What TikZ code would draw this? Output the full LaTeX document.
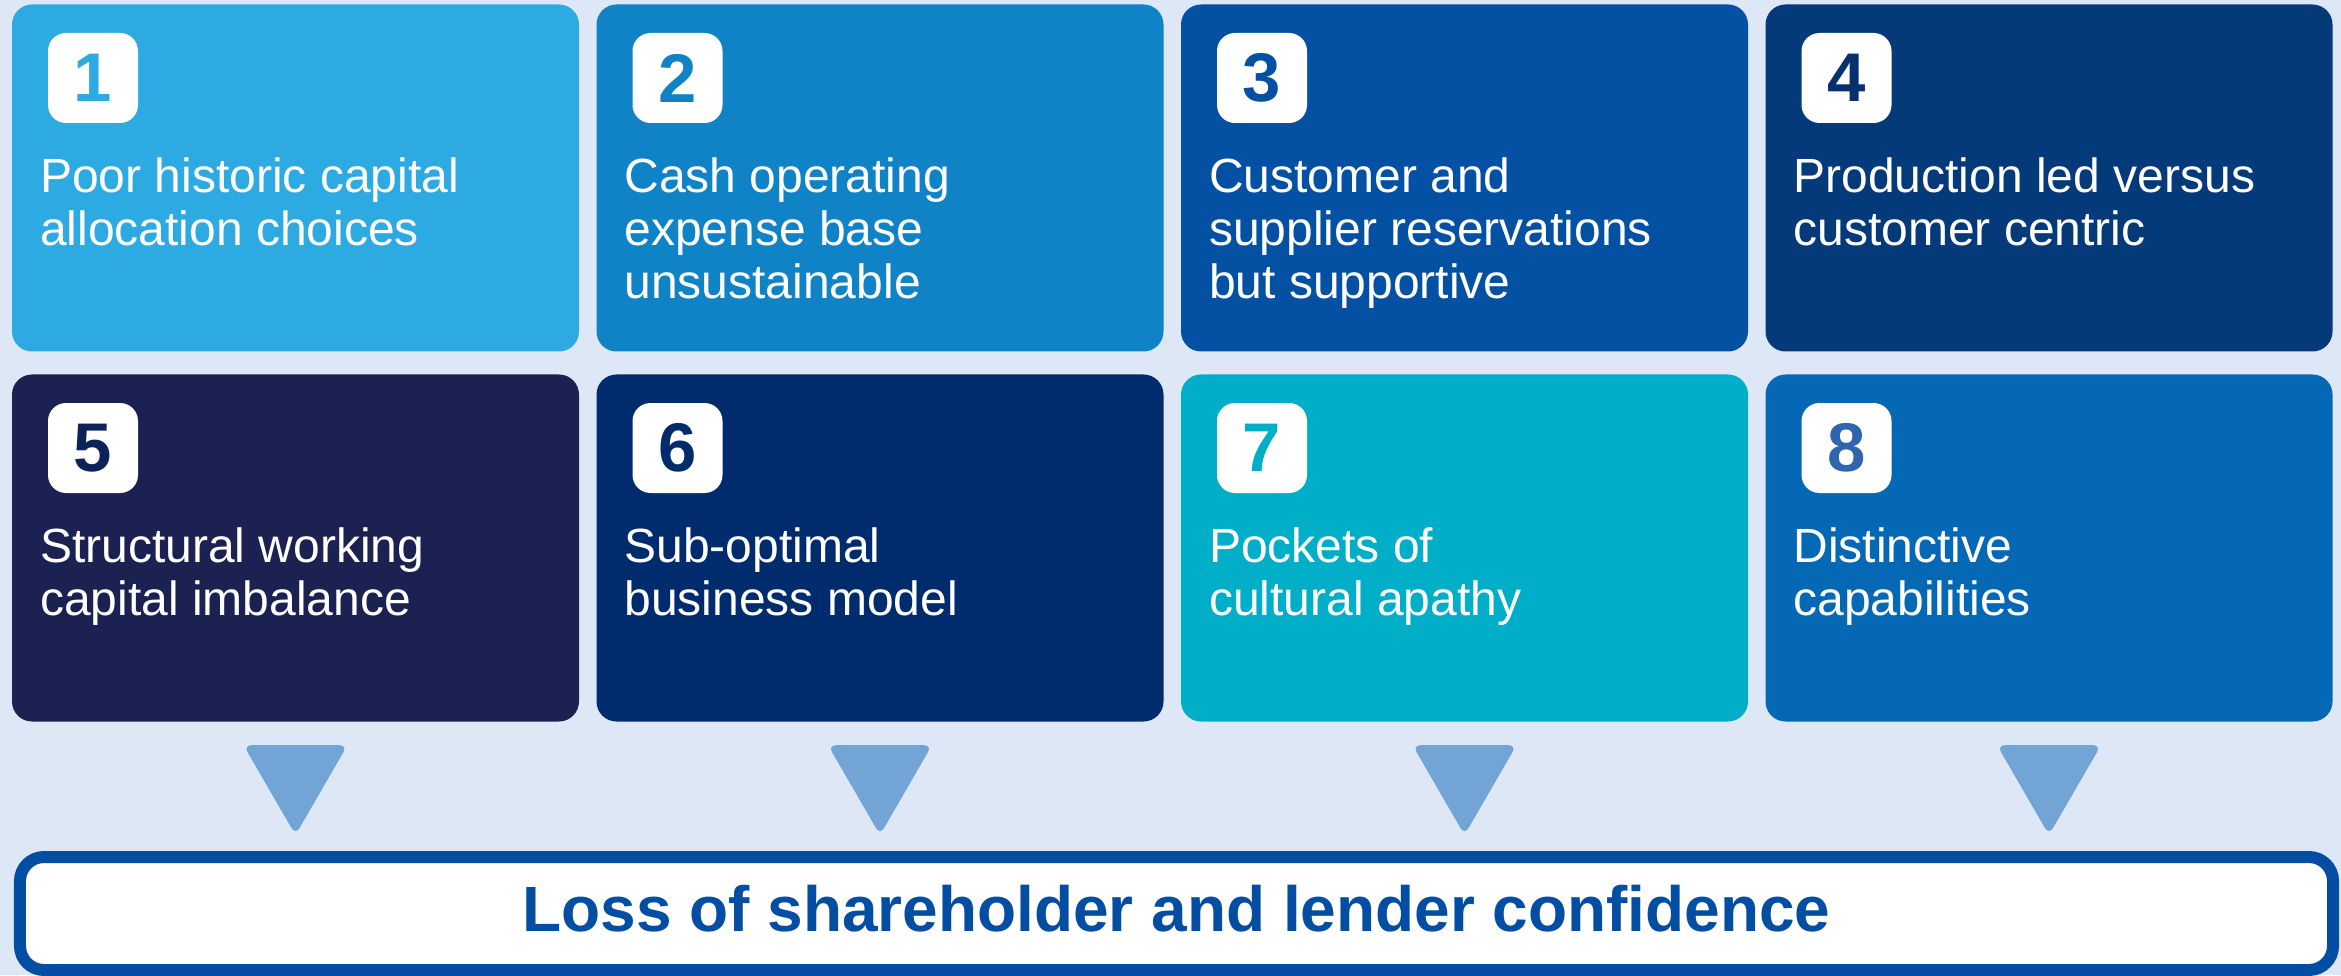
\documentclass[tikz,border=0pt]{standalone}
\usepackage{fontspec}
\setmainfont{Liberation Sans}
\usetikzlibrary{calc}
\definecolor{pageblue}{HTML}{DEE7F5}
\definecolor{c1}{HTML}{2EAAE2}
\definecolor{c2}{HTML}{0F83C6}
\definecolor{c3}{HTML}{0450A3}
\definecolor{c4}{HTML}{04397A}
\definecolor{c5}{HTML}{1B2150}
\definecolor{c6}{HTML}{002C6D}
\definecolor{c7}{HTML}{00AFC7}
\definecolor{c8}{HTML}{0568B4}
\definecolor{n4}{HTML}{06306E}
\definecolor{n5}{HTML}{0B2356}
\definecolor{n8}{HTML}{2F64AE}
\definecolor{dropblue}{HTML}{72A4D6}
\definecolor{lossblue}{HTML}{034EA2}

\begin{document}
\begin{tikzpicture}[
    card/.style={fill=#1,minimum width=5.67cm,minimum height=3.47cm,inner sep=0pt,rounded corners=0.2cm},
    badge/.style={fill=white,text=#1,minimum size=0.9cm,inner sep=0pt,rounded corners=0.18cm,anchor=north west,font=\fontsize{19.6pt}{20pt}\selectfont\bfseries},
    cardtext/.style={text=white,anchor=north west,align=left,inner sep=0pt,execute at begin node=\strut,font=\fontsize{13.66pt}{15.1pt}\selectfont},
    drop/.style={fill=dropblue,rounded corners=0.08cm},
    banner/.style={draw=lossblue,line width=0.12cm,fill=white,rounded corners=0.24cm,minimum width=23.13cm,minimum height=1.13cm,inner sep=0pt,text depth=0.1cm,text=lossblue,font=\fontsize{18.2pt}{20pt}\selectfont\bfseries}]
    \useasboundingbox (0,0) rectangle (23.41,9.75);
    \fill[pageblue] (0,0) rectangle (23.41,9.75);
    \node[card=c1] (b1) at (2.955,7.97) {};
    \node[card=c2] (b2) at (8.8,7.97) {};
    \node[card=c3] (b3) at (14.645,7.97) {};
    \node[card=c4] (b4) at (20.49,7.97) {};
    \node[card=c5] (b5) at (2.955,4.27) {};
    \node[card=c6] (b6) at (8.8,4.27) {};
    \node[card=c7] (b7) at (14.645,4.27) {};
    \node[card=c8] (b8) at (20.49,4.27) {};
    \node[badge=c1] (n1) at ([shift={(0.36,-0.285)}]b1.north west) {1};
    \node[badge=c2] (n2) at ([shift={(0.36,-0.285)}]b2.north west) {2};
    \node[badge=c3] (n3) at ([shift={(0.36,-0.285)}]b3.north west) {3};
    \node[badge=n4] (n4) at ([shift={(0.36,-0.285)}]b4.north west) {4};
    \node[badge=n5] (n5) at ([shift={(0.36,-0.285)}]b5.north west) {5};
    \node[badge=c6] (n6) at ([shift={(0.36,-0.285)}]b6.north west) {6};
    \node[badge=c7] (n7) at ([shift={(0.36,-0.285)}]b7.north west) {7};
    \node[badge=n8] (n8) at ([shift={(0.36,-0.285)}]b8.north west) {8};
    \node[cardtext] (t1) at ([shift={(0.28,-1.535)}]b1.north west) {Poor historic capital\\allocation choices};
    \node[cardtext] (t2) at ([shift={(0.28,-1.535)}]b2.north west) {Cash operating\\expense base\\unsustainable};
    \node[cardtext] (t3) at ([shift={(0.28,-1.535)}]b3.north west) {Customer and\\supplier reservations\\but supportive};
    \node[cardtext] (t4) at ([shift={(0.28,-1.535)}]b4.north west) {Production led versus\\customer centric};
    \node[cardtext] (t5) at ([shift={(0.28,-1.535)}]b5.north west) {Structural working\\capital imbalance};
    \node[cardtext] (t6) at ([shift={(0.28,-1.535)}]b6.north west) {Sub-optimal\\business model};
    \node[cardtext] (t7) at ([shift={(0.28,-1.535)}]b7.north west) {Pockets of\\cultural apathy};
    \node[cardtext] (t8) at ([shift={(0.28,-1.535)}]b8.north west) {Distinctive\\capabilities};
    \node[banner] (loss) at (11.765,0.615) {Loss of shareholder and lender confidence};
    \foreach \i in {5,...,8}
        \fill[drop] ($(b\i.south)+(-0.52,-0.23)$) -- ($(b\i.south)+(0.52,-0.23)$) -- ($(b\i.south |- loss.north)+(0,0.16)$) -- cycle;
\end{tikzpicture}
\end{document}
